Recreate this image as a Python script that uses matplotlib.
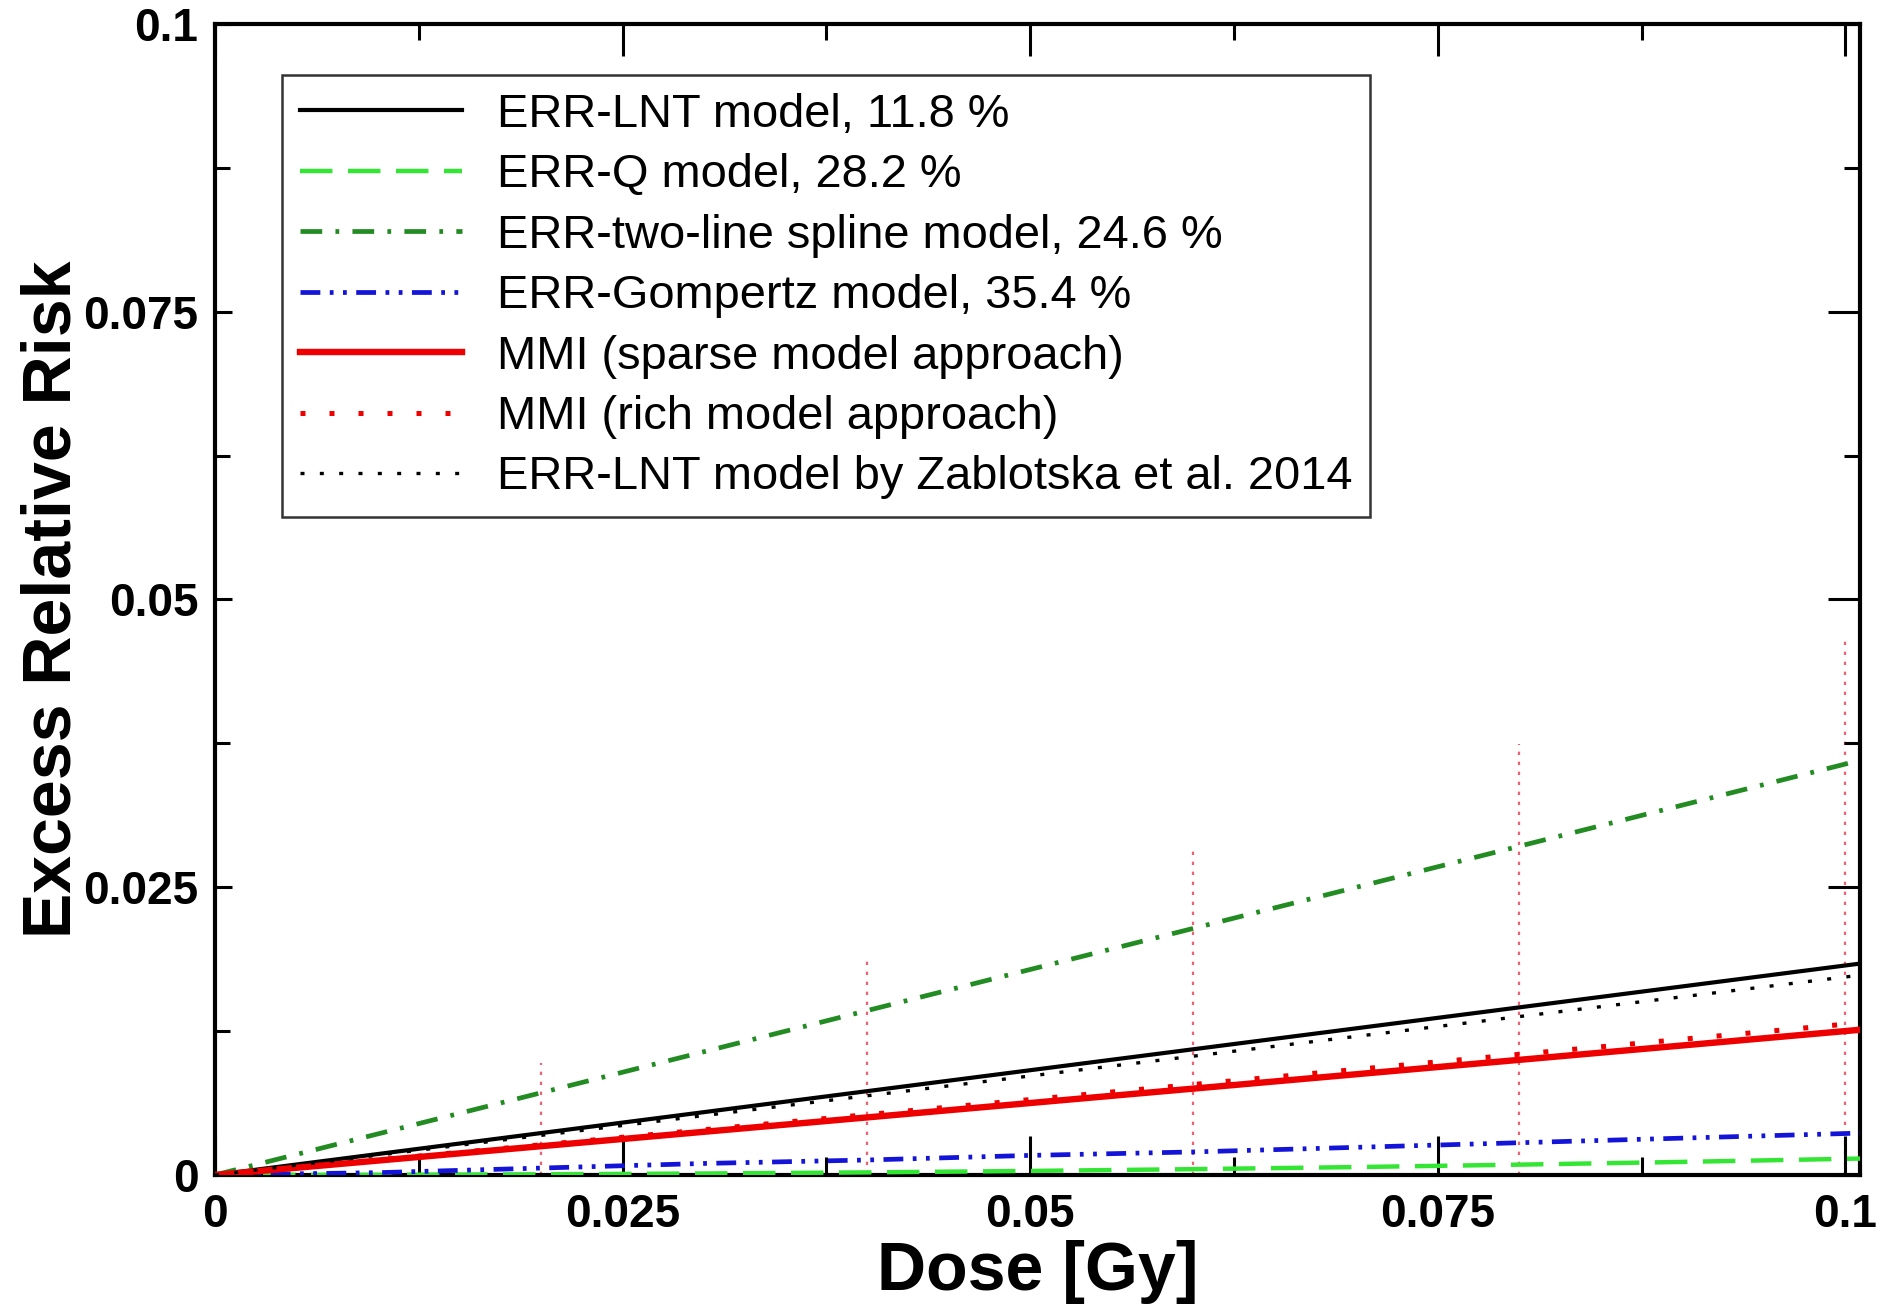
import numpy as np
import matplotlib
matplotlib.use("Agg")
import matplotlib.pyplot as plt
from matplotlib.ticker import MultipleLocator, FixedLocator

# ---- data ----
dose = [0.0, 0.01, 0.02, 0.03, 0.04, 0.05, 0.06, 0.07, 0.08, 0.09, 0.1, 0.101]
err_lnt = [0.0, 0.00182, 0.00364, 0.00546, 0.00728, 0.0091, 0.01092, 0.01274, 0.01456, 0.01638, 0.0182, 0.01838]
err_q = [0.0, 0.000014, 0.000056, 0.000126, 0.000224, 0.00035, 0.000504, 0.000686, 0.000896, 0.001134, 0.0014, 0.001428]
err_spline = [0.0, 0.00357, 0.00714, 0.01071, 0.01428, 0.01785, 0.02142, 0.02499, 0.02856, 0.03213, 0.0357, 0.03606]
err_gompertz = [0.0, 0.0002, 0.0006, 0.001, 0.0013, 0.0017, 0.002, 0.0024, 0.0028, 0.0032, 0.0036, 0.00364]
mmi_sparse = [0.0, 0.00125, 0.0025, 0.00375, 0.005, 0.00625, 0.0075, 0.00875, 0.01, 0.01125, 0.0125, 0.01263]
mmi_rich = [0.0, 0.00131, 0.00262, 0.00393, 0.00524, 0.00655, 0.00786, 0.00917, 0.01048, 0.01179, 0.0131, 0.01323]
zablotska = [0.0, 0.00172, 0.00344, 0.00516, 0.00688, 0.0086, 0.01032, 0.01204, 0.01376, 0.01548, 0.0172, 0.01737]

ci_dose = [0.02, 0.04, 0.06, 0.08, 0.1]
ci_low = [0.0, 0.0, 0.0, 0.0, 0.0]
ci_high = [0.0097, 0.0191, 0.0283, 0.0374, 0.0469]

tick_vals = [0.0, 0.025, 0.05, 0.075, 0.1]
tick_labels = ["0", "0.025", "0.05", "0.075", "0.1"]

labels = [
    "ERR-LNT model, 11.8 %",
    "ERR-Q model, 28.2 %",
    "ERR-two-line spline model, 24.6 %",
    "ERR-Gompertz model, 35.4 %",
    "MMI (sparse model approach)",
    "MMI (rich model approach)",
    "ERR-LNT model by Zablotska et al. 2014",
]

plt.rcParams['font.family'] = ['Liberation Sans', 'DejaVu Sans']

fig = plt.figure(figsize=(18.96, 13.09), dpi=100)
ax = fig.add_axes([0.1134, 0.1024, 0.981 - 0.1134, 0.9817 - 0.1024])

# confidence bars (thin red dotted verticals)
ax.vlines(ci_dose, ci_low, ci_high, colors="#f06070", linewidth=1.6,
          linestyles=(0, (1.5, 3.0)), zorder=1)

ax.plot(dose, err_lnt, color="black", lw=3.0, ls="-", label=labels[0], zorder=3)
ax.plot(dose, err_q, color="#33e633", lw=3.2, ls=(0, (7.3, 3.5)), label=labels[1], zorder=3)
ax.plot(dose, err_spline, color="#228b22", lw=3.4, ls=(0, (4.6, 2.8, 0.8, 2.8)), label=labels[2], zorder=3)
ax.plot(dose, err_gompertz, color="#1414d8", lw=3.4, ls=(0, (4.2, 2.0, 0.8, 2.0, 0.8, 2.0)), label=labels[3], zorder=3)
ax.plot(dose, mmi_sparse, color="#ee0000", lw=4.6, ls="-", label=labels[4], zorder=3)
ax.plot(dose, mmi_rich, color="#ee0000", lw=3.6, ls=(0, (1, 4.8)), label=labels[5], zorder=3)
ax.plot(dose, zablotska, color="black", lw=2.4, ls=(0, (1.2, 4.6)), label=labels[6], zorder=3)

ax.set_xlim(0, 0.1009)
ax.set_ylim(0, 0.1)
ax.xaxis.set_major_locator(FixedLocator(tick_vals))
ax.yaxis.set_major_locator(FixedLocator(tick_vals))
ax.set_xticklabels(tick_labels)
ax.set_yticklabels(tick_labels)
ax.xaxis.set_minor_locator(FixedLocator([0.0125, 0.0375, 0.0625, 0.0875]))
ax.yaxis.set_minor_locator(MultipleLocator(0.0125))
ax.tick_params(which="both", direction="in", top=True, right=True, width=2.2)
ax.tick_params(which="major", length=23, labelsize=33, pad=13)
ax.tick_params(which="minor", length=11.5)
ax.tick_params(axis="y", which="major", pad=12)
for lab in ax.get_xticklabels() + ax.get_yticklabels():
    lab.set_fontweight("bold")
for s in ax.spines.values():
    s.set_linewidth(3.0)

# per-side tick lengths (left shorter, bottom major longer)
for t in ax.yaxis.get_major_ticks():
    t.tick1line.set_markersize(12.5)
for t in ax.yaxis.get_minor_ticks():
    t.tick1line.set_markersize(11)
for t in ax.xaxis.get_major_ticks():
    t.tick1line.set_markersize(28)
for t in ax.xaxis.get_minor_ticks():
    t.tick1line.set_markersize(13)

ax.set_xlabel("Dose [Gy]", fontsize=49, fontweight="bold")
ax.set_ylabel("Excess Relative Risk", fontsize=49, fontweight="bold")
ax.xaxis.set_label_coords(0.5, -0.0843)
ax.xaxis.label.set_va("center")
ax.yaxis.set_label_coords(-0.099, 0.5)
ax.yaxis.label.set_va("center")

leg = ax.legend(loc="upper left", bbox_to_anchor=(0.0407, 0.9557), fontsize=33.8,
                frameon=True, fancybox=False, edgecolor="black", handlelength=3.45,
                handletextpad=0.75, labelspacing=0.35, borderpad=0.38,
                borderaxespad=0.0)
leg.get_frame().set_linewidth(1.8)

fig.savefig("out.png", dpi=100)
